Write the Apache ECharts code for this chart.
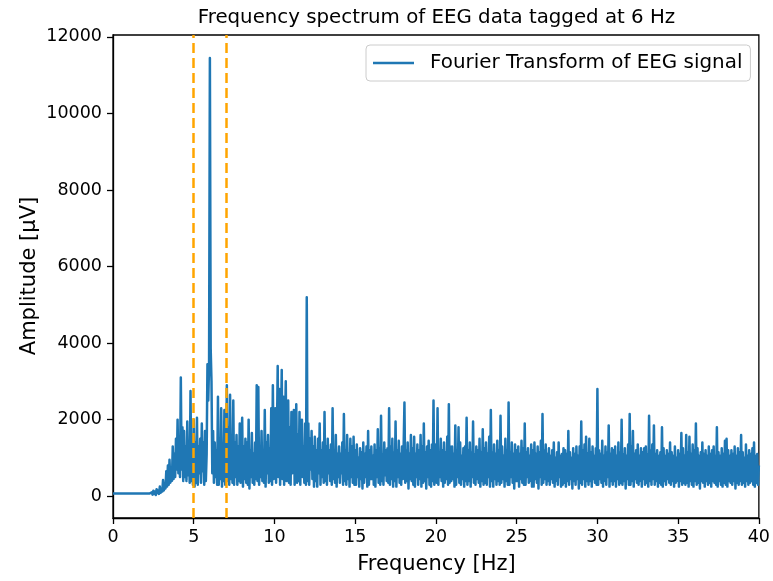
<!DOCTYPE html>
<html><head><meta charset="utf-8">
<script src="https://cdn.jsdelivr.net/npm/echarts@6/dist/echarts.min.js"></script>
<style>html,body{margin:0;padding:0;background:#fff}#c{width:773px;height:581px}</style>
</head><body><div id="c"></div>
<script>
// Frequency grid of the FFT bins (Hz)
const FREQ_START = 0;
const FREQ_STEP = 0.05;

// Amplitude [µV], one value per 0.05 Hz bin
const amp_0_10 = [
  70,70,70,70,70,70,70,70,70,70,
  70,70,70,70,70,70,70,70,70,70,
  70,70,70,70,70,70,70,70,70,70,
  70,70,70,70,70,70,70,70,70,70,
  70,70,70,70,70,70,80,50,100,40,
  140,60,120,30,180,80,150,60,250,90,
  200,120,420,150,300,200,650,250,800,300,
  950,350,700,400,1300,450,1100,500,1500,700,
  2000,600,1400,500,3100,700,1800,400,1700,500,
  1300,400,1950,550,1200,350,2750,400,1600,300,
  2000,250,1400,350,2050,300,1300,600,1500,350,
  1900,650,1400,300,1700,400,1100,3450,2500,3450,
  11450,3850,3000,600,1700,350,1400,500,1200,300,
  2600,300,1500,450,2300,250,1300,400,2250,300,
  700,2900,400,1800,300,2650,450,1500,350,2500,
  300,1400,500,1600,300,1300,400,1900,350,1200,
  2050,250,1300,450,1500,350,1400,300,2000,200,
  1200,500,1650,350,1100,300,1400,450,2900,400,
  2850,300,1300,500,1700,400,1200,350,2250,250,
  1400,600,1600,350,1250,400,2300,300,2900,450
];
const amp_10_20 = [
  400,2300,350,1500,3400,500,2800,300,1600,3300,
  450,2600,300,1700,3000,400,1400,2500,350,1800,
  300,2200,600,1500,2250,300,1300,2400,350,1600,
  400,2200,300,1400,2000,500,1300,350,1900,300,
  5200,400,1900,300,1500,700,1700,450,1300,250,
  1550,400,1200,250,1500,600,1900,300,1200,500,
  1400,350,2200,400,1300,300,1500,600,1200,400,
  1350,300,2300,450,1200,350,1600,250,1100,500,
  1300,350,1100,600,1400,300,2150,400,1200,300,
  1600,450,1100,250,1500,500,1300,350,1550,300,
  1200,300,1350,500,1000,250,1250,450,1150,200,
  1400,350,1100,500,1300,250,1700,300,1200,450,
  1300,450,1050,300,1350,250,1200,500,1750,350,
  1250,300,2100,400,1100,300,1400,550,1200,400,
  1250,350,2300,300,1300,450,1500,250,1150,400,
  1950,250,1200,500,1450,350,1100,300,1300,450,
  1300,2450,350,1200,400,1400,200,1100,450,1600,
  400,1250,300,1550,250,1100,500,1350,300,1200,
  450,1600,250,1300,350,1900,400,1150,200,1300,
  500,1450,300,1200,250,1350,400,2500,300,1250
];
const amp_20_30 = [
  1350,350,2300,300,1100,500,1500,400,1200,250,
  1400,350,1150,450,1550,300,2400,350,1300,400,
  1300,450,1100,250,1850,300,1200,500,1800,350,
  1400,300,1050,450,1250,250,1300,400,2050,300,
  1200,400,1400,250,1150,500,1950,350,1100,300,
  1300,450,1200,350,1500,250,1150,400,1750,300,
  1250,350,1400,300,1100,500,1550,250,2250,400,
  1150,250,1350,450,1100,300,1450,400,1200,300,
  2100,350,1300,450,1050,250,1500,400,1200,300,
  2450,300,1150,500,1400,350,1100,200,1350,400,
  1200,400,1300,250,1100,450,1450,350,1250,300,
  1900,300,1150,500,1250,350,1050,400,1350,250,
  1200,250,1400,450,1100,350,1300,200,1150,500,
  1450,300,2150,350,1200,450,1350,300,1100,400,
  1250,300,1050,450,1200,350,1400,250,1000,400,
  1150,300,1400,500,1050,250,1100,300,1250,350,
  1200,250,1100,400,1700,300,1150,450,1000,200,
  1250,400,1100,300,1300,450,1050,200,1300,350,
  1950,300,1200,450,1350,250,1550,400,1100,300,
  1500,400,1150,250,1300,450,1050,350,1250,300
];
const amp_30_40 = [
  2800,300,1200,450,1100,350,1450,250,1050,400,
  1300,300,1150,500,1850,250,1100,400,1250,300,
  1200,400,1300,250,1050,450,1400,300,1150,350,
  2000,300,1100,400,1250,200,1050,450,1350,300,
  2150,300,1300,400,1700,250,1100,450,1200,350,
  1350,300,1050,400,1250,250,1150,450,1250,300,
  1300,350,1100,250,2100,400,1200,300,1350,450,
  1850,300,1100,400,1200,250,1050,350,1150,300,
  1800,250,1250,400,1050,300,1200,450,1100,350,
  1400,300,1150,400,1050,250,1300,350,1000,400,
  1200,250,1100,400,1650,300,1250,350,1050,300,
  1600,350,1150,250,1550,400,1100,300,1350,250,
  1200,400,1900,300,1250,350,1050,200,1150,400,
  1400,350,1100,250,1200,400,1050,300,1300,350,
  1100,250,1200,400,1300,350,1050,300,1800,250,
  1150,400,1050,300,1250,250,1100,350,1450,300,
  1500,250,1200,400,1050,350,1200,300,1100,400,
  1300,200,1050,350,1250,300,1150,400,1600,300,
  1150,350,1000,250,1350,400,1050,300,1200,350,
  1100,400,1250,300,1400,250,1050,350,1100,300,
  800
];

const markerFreqs = [5, 7];
const yTicks = [0, 2000, 4000, 6000, 8000, 10000, 12000];
const seriesName = 'Fourier Transform of EEG signal';
const titleText = 'Frequency spectrum of EEG data tagged at 6 Hz';
const xLabel = 'Frequency [Hz]';
const yLabel = 'Amplitude [µV]';

const amplitude = [].concat(amp_0_10, amp_10_20, amp_20_30, amp_30_40);
const data = amplitude.map((v, i) => [+(FREQ_START + i * FREQ_STEP).toFixed(3), v]);

const FONT = 'DejaVu Sans';
const chart = echarts.init(document.getElementById('c'), null, {renderer: 'canvas'});
chart.setOption({
  animation: false,
  backgroundColor: '#ffffff',
  grid: {left: 113, right: 13, top: 35, bottom: 63, show: true, borderColor: '#000', borderWidth: 1.3, backgroundColor: 'transparent'},
  xAxis: {
    type: 'value', min: 0, max: 40, interval: 5,
    axisLine: {show: true, onZero: false, lineStyle: {color: '#000', width: 1.3}},
    axisTick: {show: true, inside: false, length: 6, lineStyle: {color: '#000', width: 1.3}},
    axisLabel: {margin: 10, color: '#000', fontFamily: FONT, fontSize: 17.5, formatter: v => String(v)},
    splitLine: {show: false}
  },
  yAxis: {
    type: 'value', min: -570, max: 12050,
    axisLine: {show: true, onZero: false, lineStyle: {color: '#000', width: 1.3}},
    axisTick: {show: true, length: 6, customValues: yTicks, lineStyle: {color: '#000', width: 1.3}},
    axisLabel: {margin: 11, color: '#000', fontFamily: FONT, fontSize: 17.5, customValues: yTicks, formatter: v => String(v)},
    splitLine: {show: false}
  },
  legend: {
    data: [seriesName], left: 366, top: 45,
    icon: 'rect', itemWidth: 41, itemHeight: 2.5,
    padding: [8, 8, 8, 7],
    borderColor: '#cccccc', borderWidth: 1, borderRadius: 4,
    backgroundColor: 'rgba(255,255,255,0.8)',
    textStyle: {fontFamily: FONT, fontSize: 19.9, color: '#000', padding: [0, 0, 0, 11]}
  },
  graphic: [
    {type: 'text', x: 436.5, y: 18, style: {text: titleText, font: '19.8px "DejaVu Sans"', fill: '#000', align: 'center', verticalAlign: 'middle'}},
    {type: 'text', x: 436.5, y: 565, style: {text: xLabel, font: '21px "DejaVu Sans"', fill: '#000', align: 'center', verticalAlign: 'middle'}},
    {type: 'text', x: 30, y: 276, rotation: Math.PI / 2, style: {text: yLabel, font: '21px "DejaVu Sans"', fill: '#000', align: 'center', verticalAlign: 'middle'}}
  ],
  series: [{
    name: seriesName, type: 'line', data: data,
    symbol: 'none', showSymbol: false, sampling: null,
    lineStyle: {color: '#1f77b4', width: 2.5, join: 'round'},
    itemStyle: {color: '#1f77b4'},
    markLine: {
      silent: true, symbol: ['none', 'none'], label: {show: false},
      lineStyle: {color: '#FFA500', width: 2.5, type: 'dashed', opacity: 1},
      emphasis: {disabled: true},
      data: markerFreqs.map(f => ({xAxis: f}))
    }
  }]
});
</script>
</body></html>
